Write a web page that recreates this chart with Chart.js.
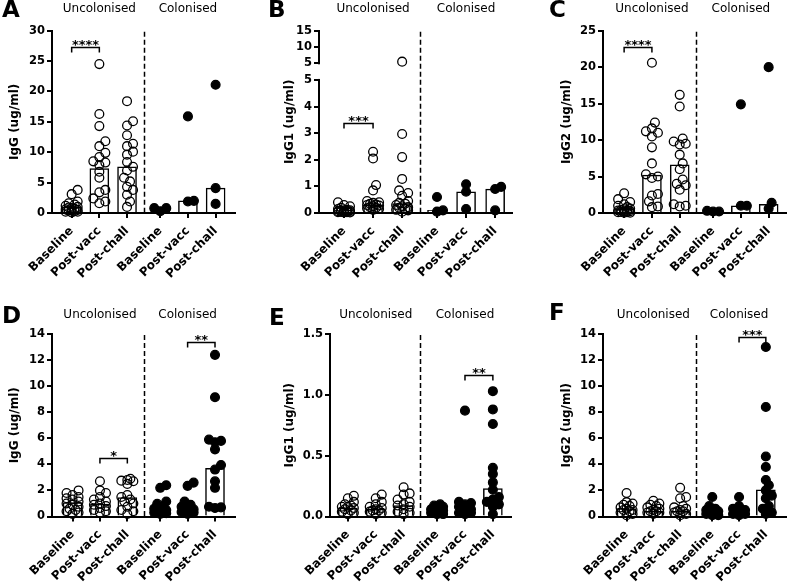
<!DOCTYPE html>
<html>
<head>
<meta charset="utf-8">
<script src="https://cdn.jsdelivr.net/npm/chart.js@4.4.1/dist/chart.umd.min.js"></script>
<style>
  html, body { margin: 0; padding: 0; background: #fff; width: 787px; height: 582px; overflow: hidden; }
  canvas { position: absolute; }
</style>
</head>
<body>
<script>
// ---- data ----
const categories = ['Baseline', 'Post-vacc', 'Post-chall', 'Baseline', 'Post-vacc', 'Post-chall'];
const groups = ['Uncolonised', 'Colonised'];
const catX = [1, 2, 3, 4.2, 5.2, 6.2];
const dividerX = 3.6;

// A: IgG (top row)
const ptsA = [
  [3.8, 3.1, 1.9, 1.6, 1.4, 1.2, 1.0, 0.9, 0.8, 0.7, 0.6, 0.5, 0.4, 0.4, 0.3, 0.2, 0.2, 0.1],
  [24.5, 16.3, 14.3, 11.8, 11.0, 9.9, 9.2, 8.5, 8.3, 7.9, 6.8, 5.8, 3.8, 3.4, 2.4, 1.9, 1.6],
  [18.4, 15.1, 14.4, 12.8, 11.4, 11.0, 10.1, 9.6, 8.4, 7.6, 7.0, 5.8, 5.2, 4.3, 3.8, 3.0, 1.9, 1.0],
  [0.3, 0.8, 0.8],
  [15.9, 1.9, 2.0],
  [21.1, 4.1, 1.5]
];
const barA = [1.0, 7.3, 7.6, 0.7, 2.0, 4.1];
const ticksA = [0, 5, 10, 15, 20, 25, 30];
const sigA = [[0, 1, 27.3, '****']];

// B: IgG1 (top row, broken axis)
const ptsB = [
  [0.4, 0.3, 0.25, 0.2, 0.15, 0.12, 0.1, 0.1, 0.08, 0.07, 0.06, 0.05, 0.05, 0.04, 0.03, 0.03, 0.02, 0.02],
  [2.3, 2.05, 1.05, 0.85, 0.45, 0.4, 0.38, 0.35, 0.32, 0.3, 0.28, 0.25, 0.22, 0.2, 0.18, 0.15, 0.12],
  [5.5, 2.97, 2.1, 1.28, 0.85, 0.75, 0.65, 0.45, 0.38, 0.35, 0.3, 0.25, 0.22, 0.2, 0.15, 0.12, 0.1, 0.05],
  [0.05, 0.6, 0.1],
  [1.08, 0.8, 0.15],
  [0.98, 0.9, 0.1]
];
const barB = [0.1, 0.3, 0.35, 0.1, 0.8, 0.9];
const ticksB = [0, 1, 2, 3, 4, 5];
const ticksBHigh = [5, 10, 15];
const sigB = [[0, 1, 3.4, '***']];

// C: IgG2 (top row)
const ptsC = [
  [2.7, 1.9, 1.5, 1.2, 1.0, 0.8, 0.6, 0.5, 0.4, 0.35, 0.3, 0.25, 0.2, 0.15, 0.1, 0.1, 0.05, 0.05],
  [20.6, 12.4, 11.6, 11.2, 11.0, 10.5, 9.0, 6.8, 5.3, 5.0, 4.8, 2.6, 2.4, 1.6, 0.9, 0.8],
  [16.2, 14.6, 10.2, 9.8, 9.5, 9.4, 8.0, 6.8, 6.0, 4.6, 4.0, 3.8, 3.2, 1.2, 0.9, 1.0],
  [0.2, 0.3, 0.2],
  [14.9, 1.0, 1.0],
  [20.0, 1.4, 0.6]
];
const barC = [0.5, 5.2, 6.6, 0.25, 1.0, 1.2];
const ticksC = [0, 5, 10, 15, 20, 25];
const sigC = [[0, 1, 22.7, '****']];

// D: IgG (bottom row)
const ptsD = [
  [2.0, 1.8, 1.65, 1.5, 1.4, 1.3, 1.15, 1.0, 0.9, 0.75, 0.6, 0.5, 0.4, 0.3, 0.2],
  [2.7, 2.0, 1.8, 1.5, 1.3, 1.15, 1.0, 0.9, 0.8, 0.65, 0.5, 0.4, 0.3],
  [2.9, 2.8, 2.75, 2.7, 2.5, 1.65, 1.5, 1.3, 1.15, 1.0, 0.75, 0.5, 0.4, 0.2],
  [2.4, 2.2, 1.15, 0.97, 0.8, 0.6, 0.5, 0.45, 0.4, 0.35, 0.3, 0.25, 0.2],
  [2.6, 2.35, 1.15, 0.9, 0.75, 0.55, 0.5, 0.45, 0.4, 0.35, 0.3, 0.2],
  [12.4, 9.15, 5.9, 5.8, 5.7, 5.15, 3.95, 3.6, 2.7, 2.2, 0.75, 0.7, 0.65]
];
const barD = [1.07, 0.95, 1.45, 0.5, 0.5, 3.7];
const ticksD = [0, 2, 4, 6, 8, 10, 12, 14];
const sigD = [[1, 2, 4.5, '*'], [4, 5, 13.4, '**']];

// E: IgG1 (bottom row)
const ptsE = [
  [0.17, 0.15, 0.12, 0.10, 0.09, 0.08, 0.08, 0.07, 0.06, 0.05, 0.04, 0.03, 0.02],
  [0.18, 0.15, 0.12, 0.10, 0.08, 0.07, 0.06, 0.05, 0.05, 0.04, 0.03, 0.02],
  [0.24, 0.19, 0.18, 0.14, 0.12, 0.10, 0.09, 0.08, 0.06, 0.04, 0.03, 0.02],
  [0.10, 0.09, 0.08, 0.07, 0.06, 0.05, 0.05, 0.04, 0.04, 0.03, 0.03, 0.02, 0.02],
  [0.87, 0.12, 0.11, 0.10, 0.08, 0.06, 0.05, 0.04, 0.04, 0.03, 0.03, 0.02],
  [1.03, 0.88, 0.76, 0.40, 0.35, 0.28, 0.22, 0.16, 0.14, 0.12, 0.10, 0.08, 0.02]
];
const barE = [0.07, 0.06, 0.09, 0.04, 0.04, 0.23];
const ticksE = [0, 0.5, 1.0, 1.5];
const sigE = [[4, 5, 1.16, '**']];

// F: IgG2 (bottom row)
const ptsF = [
  [1.8, 1.1, 1.0, 0.9, 0.8, 0.7, 0.6, 0.5, 0.5, 0.4, 0.3, 0.2, 0.1],
  [1.2, 1.0, 0.9, 0.8, 0.7, 0.6, 0.5, 0.4, 0.4, 0.3, 0.3, 0.2],
  [2.2, 1.5, 1.4, 0.8, 0.7, 0.6, 0.5, 0.4, 0.4, 0.3, 0.2, 0.1],
  [1.5, 0.8, 0.6, 0.5, 0.4, 0.3, 0.3, 0.2, 0.2, 0.1, 0.1],
  [1.5, 0.8, 0.6, 0.5, 0.4, 0.3, 0.3, 0.2, 0.2, 0.1],
  [13.0, 8.4, 4.6, 3.8, 2.8, 2.4, 2.0, 1.6, 1.4, 0.8, 0.6, 0.3, 0.2]
];
const barF = [0.6, 0.4, 0.4, 0.2, 0.2, 2.05];
const ticksF = [0, 2, 4, 6, 8, 10, 12, 14];
const sigF = [[4, 5, 13.8, '***']];

// ---- layout (page pixels) ----
const FONT = "'DejaVu Sans', sans-serif";
const layout = {
  A: { cl: 0,   ct: 0,   cw: 262, ch: 290, left: 52,  right: 235, top: 30.7, bottom: 213,   titleX: 15,  letter: [2, 0],    groupY: 9,   xmin: 0.29, xmax: 6.9 },
  B: { cl: 262, ct: 0,   cw: 262, ch: 290, left: 319, right: 512, top: 30.7, bottom: 213,   titleX: 290, letter: [268, 0],  groupY: 9,   xmin: 0.14, xmax: 6.78 },
  C: { cl: 524, ct: 0,   cw: 276, ch: 290, left: 603, right: 787, top: 30.7, bottom: 213,   titleX: 567, letter: [549, 0],  groupY: 9,   xmin: 0.24, xmax: 6.86 },
  D: { cl: 0,   ct: 290, cw: 262, ch: 292, left: 52,  right: 235, top: 334,  bottom: 516.5, titleX: 15,  letter: [2, 306],  groupY: 315, xmin: 0.25, xmax: 6.93 },
  E: { cl: 262, ct: 290, cw: 262, ch: 292, left: 330, right: 511, top: 334,  bottom: 516.5, titleX: 290, letter: [269, 308], groupY: 315, xmin: 0.36, xmax: 6.85 },
  F: { cl: 524, ct: 290, cw: 276, ch: 292, left: 603, right: 787, top: 334,  bottom: 516.5, titleX: 567, letter: [549, 303], groupY: 315, xmin: 0.12, xmax: 6.99 }
};

// GraphPad-like scatter: spread points sideways where they collide
function swarm(vals, cx, pxX, pxY, tf) {
  const placed = [];
  const out = [];
  const order = vals.map((v, i) => i).sort((a, b) => vals[a] - vals[b]);
  const cands = [0, 3, -3, 6, -6];
  for (const i of order) {
    const py = tf(vals[i]) * pxY;
    let best = 0, bestD = -1;
    for (const c of cands) {
      let dmin = Infinity;
      for (const p of placed) dmin = Math.min(dmin, Math.hypot(p[0] - c, p[1] - py));
      if (dmin >= 6) { best = c; break; }
      if (dmin > bestD) { bestD = dmin; best = c; }
    }
    placed.push([best, py]);
    out.push({ x: cx + best / pxX, y: tf(vals[i]) });
  }
  return out;
}

function panel(key, letter, title, pts, bars, tickVals, tickLabels, ymax, sig, tf, brk) {
  const L = layout[key];
  const cv = document.createElement('canvas');
  cv.width = L.cw; cv.height = L.ch;
  cv.style.left = L.cl + 'px'; cv.style.top = L.ct + 'px';
  document.body.appendChild(cv);

  const pxX = (L.right - L.left) / (L.xmax - L.xmin);
  const pxY = (L.bottom - L.top) / ymax;
  let open = [], filled = [];
  pts.forEach((g, i) => {
    const s = swarm(g, catX[i], pxX, pxY, tf);
    if (i < 3) open = open.concat(s); else filled = filled.concat(s);
  });

  const decor = {
    id: 'decor',
    afterDraw(chart) {
      const { ctx, chartArea: a, scales: { x, y } } = chart;
      ctx.save();
      ctx.strokeStyle = '#000';
      ctx.fillStyle = '#000';
      // dashed divider
      ctx.lineWidth = 1.5;
      ctx.setLineDash([5, 3]);
      const dx = Math.round(x.getPixelForValue(dividerX)) + 0.5;
      ctx.beginPath(); ctx.moveTo(dx, a.top + 1); ctx.lineTo(dx, a.bottom); ctx.stroke();
      ctx.setLineDash([]);
      // axis break
      if (brk) {
        const y1 = y.getPixelForValue(brk[1]), y0 = y.getPixelForValue(brk[0]);
        ctx.fillStyle = '#fff';
        ctx.fillRect(a.left - 2, y1 + 1, 4, y0 - y1 - 2);
        ctx.fillStyle = '#000';
      }
      // group labels
      ctx.font = '12px ' + FONT;
      ctx.textAlign = 'center'; ctx.textBaseline = 'middle';
      ctx.fillText(groups[0], x.getPixelForValue(catX[1]), L.groupY - L.ct);
      ctx.fillText(groups[1], x.getPixelForValue(catX[4]), L.groupY - L.ct);
      // panel letter
      ctx.font = 'bold 23px ' + FONT;
      ctx.textAlign = 'left'; ctx.textBaseline = 'top';
      ctx.fillText(letter, L.letter[0] - L.cl, L.letter[1] - L.ct);
      // significance brackets
      ctx.lineWidth = 1.5;
      ctx.font = 'bold 13px ' + FONT;
      ctx.textAlign = 'center'; ctx.textBaseline = 'alphabetic';
      sig.forEach(([i, j, v, txt]) => {
        const x1 = x.getPixelForValue(catX[i]), x2 = x.getPixelForValue(catX[j]);
        const yy = Math.round(y.getPixelForValue(tf(v))) + 0.5;
        ctx.beginPath();
        ctx.moveTo(x1, yy + 5); ctx.lineTo(x1, yy); ctx.lineTo(x2, yy); ctx.lineTo(x2, yy + 5);
        ctx.stroke();
        ctx.fillText(txt, (x1 + x2) / 2, yy + 1.5);
      });
      ctx.restore();
    }
  };

  new Chart(cv, {
    type: 'bar',
    data: {
      datasets: [
        { type: 'bar', data: catX.map((cx, i) => ({ x: cx, y: tf(bars[i]) })),
          backgroundColor: '#fff', borderColor: '#000', borderWidth: 1.5, barThickness: 19, order: 3 },
        { type: 'scatter', data: open, pointRadius: 4.4, pointBorderWidth: 1.3,
          pointBackgroundColor: 'rgba(255,255,255,0)', pointBorderColor: '#000', clip: false, order: 1 },
        { type: 'scatter', data: filled, pointRadius: 4.4, pointBorderWidth: 1.3,
          pointBackgroundColor: '#000', pointBorderColor: '#000', clip: false, order: 2 }
      ]
    },
    options: {
      responsive: false,
      animation: false,
      devicePixelRatio: 1,
      events: [],
      layout: { padding: { left: L.titleX - 11 - L.cl, right: L.cl + L.cw - L.right, top: L.top - L.ct, bottom: 0 } },
      plugins: { legend: { display: false }, tooltip: { enabled: false } },
      scales: {
        x: {
          type: 'linear', min: L.xmin, max: L.xmax, offset: false,
          afterBuildTicks: s => { s.ticks = catX.map(v => ({ value: v })); },
          afterFit: s => { s.height = L.ct + L.ch - L.bottom; },
          ticks: { autoSkip: false, minRotation: 45, maxRotation: 45, padding: 6, color: '#000',
            font: { family: FONT, size: 12, weight: 'bold' }, callback: (v, i) => categories[i] },
          grid: { drawOnChartArea: false, offset: false, tickLength: 5, color: '#000', lineWidth: 2 },
          border: { color: '#000', width: 2 }
        },
        y: {
          type: 'linear', min: 0, max: ymax,
          afterBuildTicks: s => { s.ticks = tickVals.map(v => ({ value: v })); },
          afterFit: s => { s.width = L.left - (L.titleX - 11); },
          ticks: { autoSkip: false, padding: 2, color: '#000',
            font: { family: FONT, size: 11.5, weight: 'bold' }, callback: (v, i) => tickLabels[i] },
          grid: { drawOnChartArea: false, tickLength: 5, color: '#000', lineWidth: 2 },
          border: { color: '#000', width: 2 },
          title: { display: true, text: title, color: '#000', padding: { top: 4, bottom: 0 },
            font: { family: FONT, size: 12, weight: 'bold' } }
        }
      }
    },
    plugins: [decor]
  });
}

const same = v => v;
const fmt = (arr, d) => arr.map(v => v.toFixed(d));

// broken axis for B: 0-5 linear, gap, then 5-15 compressed
const bGap = 0.625, bK = 0.1225;
const bHigh = v => 5 + bGap + (v - 5) * bK;
const bTf = v => (v <= 5 ? v : bHigh(v));

panel('A', 'A', 'IgG (ug/ml)', ptsA, barA, ticksA, fmt(ticksA, 0), 30, sigA, same);
panel('B', 'B', 'IgG1 (ug/ml)', ptsB, barB, ticksB.concat(ticksBHigh.map(bHigh)),
  fmt(ticksB.concat(ticksBHigh), 0), bHigh(15), sigB, bTf, [5, bHigh(5)]);
panel('C', 'C', 'IgG2 (ug/ml)', ptsC, barC, ticksC, fmt(ticksC, 0), 25, sigC, same);
panel('D', 'D', 'IgG (ug/ml)', ptsD, barD, ticksD, fmt(ticksD, 0), 14, sigD, same);
panel('E', 'E', 'IgG1 (ug/ml)', ptsE, barE, ticksE, fmt(ticksE, 1), 1.5, sigE, same);
panel('F', 'F', 'IgG2 (ug/ml)', ptsF, barF, ticksF, fmt(ticksF, 0), 14, sigF, same);
</script>
</body>
</html>
